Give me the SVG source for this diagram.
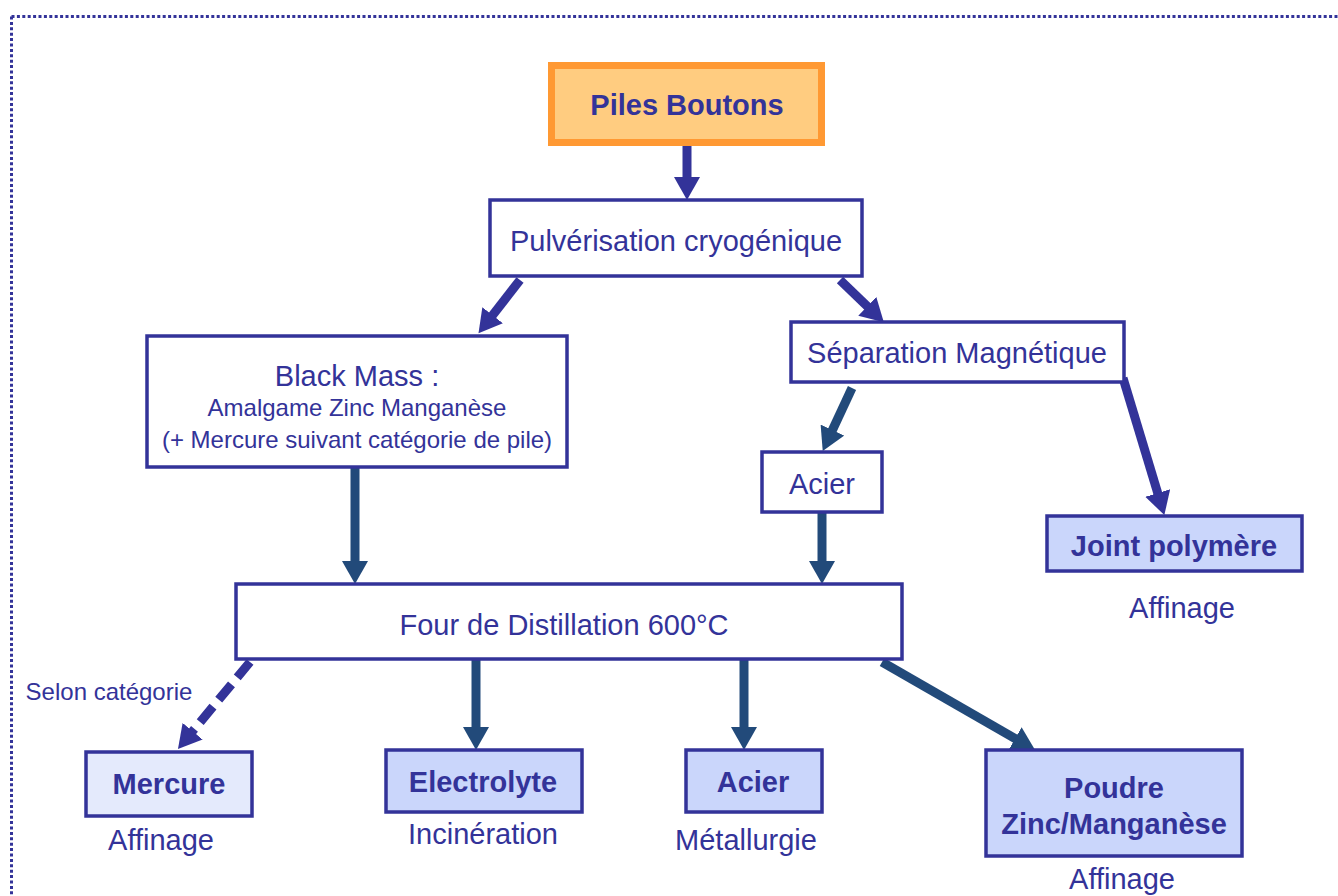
<svg xmlns="http://www.w3.org/2000/svg" width="1338" height="896" viewBox="0 0 1338 896">
<style>
.box{fill:#ffffff;stroke:#333399;stroke-width:3.5}
.res{fill:#cad6fb;stroke:#333399;stroke-width:3.5}
.light{fill:#e4eafc;stroke:#333399;stroke-width:3.5}
.t{font-family:"Liberation Sans",Arial,sans-serif;font-size:29px;fill:#333399;text-anchor:middle}
.s{font-family:"Liberation Sans",Arial,sans-serif;font-size:24px;fill:#333399;text-anchor:middle}
.b{font-weight:bold}
.a1{stroke:#333399;stroke-width:9;fill:none}
.a2{stroke:#224a7a;stroke-width:9;fill:none}
</style>
<defs>
<marker id="h1" markerUnits="userSpaceOnUse" markerWidth="24" markerHeight="26" viewBox="0 0 24 26" refX="1" refY="13" orient="auto"><path d="M0,0 L23,13 L0,26 z" fill="#333399"/></marker>
<marker id="h2" markerUnits="userSpaceOnUse" markerWidth="24" markerHeight="26" viewBox="0 0 24 26" refX="1" refY="13" orient="auto"><path d="M0,0 L23,13 L0,26 z" fill="#224a7a"/></marker>
</defs>
<path d="M11.5,16.5 H1338 M11.5,16.5 V896" fill="none" stroke="#333399" stroke-width="3" stroke-dasharray="3 2.4"/>
<g id="connectors">
<line class="a1" x1="687" y1="146" x2="687" y2="178" marker-end="url(#h1)"/>
<line class="a1" x1="520" y1="280" x2="492" y2="316" marker-end="url(#h1)"/>
<line class="a1" x1="840" y1="280" x2="868" y2="307" marker-end="url(#h1)"/>
<line class="a2" x1="852" y1="388" x2="832" y2="431" marker-end="url(#h2)"/>
<line class="a1" x1="1123" y1="378" x2="1158" y2="494" marker-end="url(#h1)"/>
<line class="a2" x1="355" y1="467" x2="355" y2="562" marker-end="url(#h2)"/>
<line class="a2" x1="822" y1="512" x2="822" y2="562" marker-end="url(#h2)"/>
<line class="a1" x1="250" y1="662" x2="192" y2="732" stroke-dasharray="20 9" marker-end="url(#h1)"/>
<line class="a2" x1="476" y1="660" x2="476" y2="728" marker-end="url(#h2)"/>
<line class="a2" x1="744" y1="660" x2="744" y2="728" marker-end="url(#h2)"/>
<line class="a2" x1="882" y1="662" x2="1016" y2="739" marker-end="url(#h2)"/>
</g>
<g id="piles">
<rect x="551.5" y="65.5" width="270" height="77" fill="#ffcc80" stroke="#ff9933" stroke-width="7"/>
<text class="t b" x="687" y="115">Piles Boutons</text>
</g>
<g id="pulverisation">
<rect class="box" x="490" y="200" width="372" height="76"/>
<text class="t" x="676" y="251">Pulvérisation cryogénique</text>
</g>
<g id="blackmass">
<rect class="box" x="147" y="336" width="420" height="131"/>
<text class="t" x="357" y="386">Black Mass :</text>
<text class="s" x="357" y="416">Amalgame Zinc Manganèse</text>
<text class="s" x="357" y="448">(+ Mercure suivant catégorie de pile)</text>
</g>
<g id="separation">
<rect class="box" x="791" y="322" width="333" height="60"/>
<text class="t" x="957" y="363">Séparation Magnétique</text>
</g>
<g id="acier1">
<rect class="box" x="762" y="452" width="120" height="60"/>
<text class="t" x="822" y="494">Acier</text>
</g>
<g id="joint">
<rect class="res" x="1047" y="516" width="255" height="55"/>
<text class="t b" x="1174" y="556">Joint polymère</text>
<text class="t" x="1182" y="618">Affinage</text>
</g>
<g id="four">
<rect class="box" x="236" y="584" width="666" height="75"/>
<text class="t" x="564" y="635">Four de Distillation 600°C</text>
</g>
<text class="s" x="109" y="700">Selon catégorie</text>
<g id="mercure">
<rect class="light" x="86" y="752" width="166" height="64"/>
<text class="t b" x="169" y="794">Mercure</text>
<text class="t" x="161" y="850">Affinage</text>
</g>
<g id="electrolyte">
<rect class="res" x="386" y="750" width="196" height="62"/>
<text class="t b" x="483" y="792">Electrolyte</text>
<text class="t" x="483" y="844">Incinération</text>
</g>
<g id="acier2">
<rect class="res" x="686" y="750" width="136" height="62"/>
<text class="t b" x="753" y="792">Acier</text>
<text class="t" x="746" y="850">Métallurgie</text>
</g>
<g id="poudre">
<rect class="res" x="986" y="750" width="256" height="106"/>
<text class="t b" x="1114" y="798">Poudre</text>
<text class="t b" x="1114" y="834">Zinc/Manganèse</text>
<text class="t" x="1122" y="889">Affinage</text>
</g>
</svg>
